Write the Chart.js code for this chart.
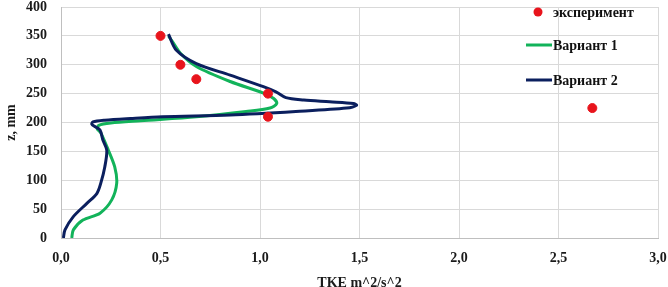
<!DOCTYPE html>
<html>
<head>
<meta charset="utf-8">
<script src="https://cdn.jsdelivr.net/npm/chart.js@4"></script>
<style>
  html, body { margin: 0; padding: 0; background: #fff; }
  #wrap { width: 668px; height: 287px; }
</style>
</head>
<body>
<div id="wrap"><canvas id="tkeChart" width="668" height="287"></canvas></div>
<script>
// Experiment points (TKE, z)
const expTke = [0.50, 0.60, 0.68, 1.04, 1.04, 2.67];
const expZ = [350, 300, 275, 250, 210, 225];

// Variant 1 (green)
const v1Tke = [0.054, 0.062, 0.11, 0.196, 0.255, 0.28, 0.27, 0.238, 0.20, 0.182, 0.19, 0.25, 0.40, 0.68, 0.93, 1.05, 1.084, 1.067, 1.017, 0.85, 0.68, 0.60, 0.56, 0.54];
const v1Z = [0, 14, 31, 43, 66, 95, 123, 152, 182, 189, 195, 199, 203, 210, 219, 225, 233, 242, 251, 271, 297, 320, 340, 350];

// Variant 2 (navy)
const v2Tke = [0.012, 0.02, 0.062, 0.13, 0.18, 0.20, 0.22, 0.23, 0.21, 0.196, 0.17, 0.155, 0.16, 0.22, 0.35, 0.51, 0.85, 1.18, 1.435, 1.485, 1.47, 1.35, 1.22, 1.13, 1.08, 1.017, 0.85, 0.68, 0.58, 0.54];
const v2Z = [0, 14, 37, 60, 77, 95, 123, 152, 170, 187, 193, 197, 201, 204, 207, 210, 213, 219, 225, 230, 233, 236, 239, 243, 253, 262, 282, 302, 325, 353];

const xTicks = [0, 0.5, 1.0, 1.5, 2.0, 2.5, 3.0];
const yTicks = [0, 50, 100, 150, 200, 250, 300, 350, 400];

const legendLabels = ['эксперимент', 'Вариант 1', 'Вариант 2'];

const RED = '#e8141c';
const GREEN = '#12b35a';
const NAVY = '#0b1f5e';
const FONT = '"Liberation Serif", "Times New Roman", serif';

function toPoints(xs, ys) {
    return xs.map((x, i) => ({ x: x, y: ys[i] }));
}

// Legend drawn inside the plot area, right side
const sideLegend = {
    id: 'sideLegend',
    afterDraw(chart) {
        const ctx = chart.ctx;
        ctx.save();
        ctx.font = 'bold 14px ' + FONT;
        ctx.textBaseline = 'middle';
        ctx.textAlign = 'left';
        const tx = 553;
        const rows = [12, 45, 80];

        // marker: red dot
        ctx.beginPath();
        ctx.fillStyle = RED;
        ctx.arc(538, rows[0], 4.5, 0, Math.PI * 2);
        ctx.fill();

        // line markers
        ctx.lineWidth = 3;
        ctx.strokeStyle = GREEN;
        ctx.beginPath(); ctx.moveTo(526, rows[1]); ctx.lineTo(552, rows[1]); ctx.stroke();
        ctx.strokeStyle = NAVY;
        ctx.beginPath(); ctx.moveTo(526, rows[2]); ctx.lineTo(552, rows[2]); ctx.stroke();

        ctx.fillStyle = '#111';
        legendLabels.forEach((label, i) => {
            ctx.fillText(label, tx, rows[i] + 1);
        });
        ctx.restore();
    }
};

const ctx = document.getElementById('tkeChart').getContext('2d');
const tkeChart = new Chart(ctx, {
    type: 'scatter',
    data: {
        datasets: [
            {
                label: legendLabels[1],
                data: toPoints(v1Tke, v1Z),
                showLine: true,
                borderColor: GREEN,
                borderWidth: 3,
                pointRadius: 0,
                tension: 0.3,
                order: 2,
            },
            {
                label: legendLabels[2],
                data: toPoints(v2Tke, v2Z),
                showLine: true,
                borderColor: NAVY,
                borderWidth: 3,
                pointRadius: 0,
                tension: 0.3,
                order: 1,
            },
            {
                label: legendLabels[0],
                data: toPoints(expTke, expZ),
                showLine: false,
                backgroundColor: RED,
                borderColor: RED,
                pointRadius: 4.5,
                order: 0,
            },
        ],
    },
    options: {
        responsive: false,
        animation: false,
        layout: {
            autoPadding: false,
            padding: { top: 7, right: 10, left: 0, bottom: 0 },
        },
        scales: {
            x: {
                type: 'linear',
                min: 0,
                max: 3,
                afterBuildTicks: (scale) => { scale.ticks = xTicks.map(v => ({ value: v })); },
                afterFit: (scale) => {
                    scale.height = 49;
                    scale.paddingLeft = 0;
                    scale.paddingRight = 0;
                },
                grid: { color: '#d9d9d9', lineWidth: 1, drawTicks: false },
                border: { color: '#bfbfbf' },
                ticks: {
                    color: '#1a1a1a',
                    padding: 12,
                    font: { family: FONT, weight: 'bold', size: 14 },
                    callback: (value) => value.toFixed(1).replace('.', ','),
                },
                title: {
                    display: true,
                    text: 'TKE m^2/s^2',
                    color: '#1a1a1a',
                    padding: { top: 6, bottom: -5 },
                    font: { family: FONT, weight: 'bold', size: 14 },
                },
            },
            y: {
                type: 'linear',
                min: 0,
                max: 400,
                afterBuildTicks: (scale) => { scale.ticks = yTicks.map(v => ({ value: v })); },
                afterFit: (scale) => {
                    scale.width = 61;
                    scale.paddingTop = 0;
                    scale.paddingBottom = 0;
                },
                grid: { color: '#d9d9d9', lineWidth: 1, drawTicks: false },
                border: { color: '#bfbfbf' },
                ticks: {
                    color: '#1a1a1a',
                    padding: 14,
                    font: { family: FONT, weight: 'bold', size: 14, lineHeight: 1 },
                },
                title: {
                    display: true,
                    text: 'z, mm',
                    color: '#1a1a1a',
                    padding: { top: 3, bottom: 0 },
                    font: { family: FONT, weight: 'bold', size: 14 },
                },
            },
        },
        plugins: {
            legend: { display: false },
            tooltip: { enabled: false },
        },
    },
    plugins: [sideLegend],
});
</script>
</body>
</html>
